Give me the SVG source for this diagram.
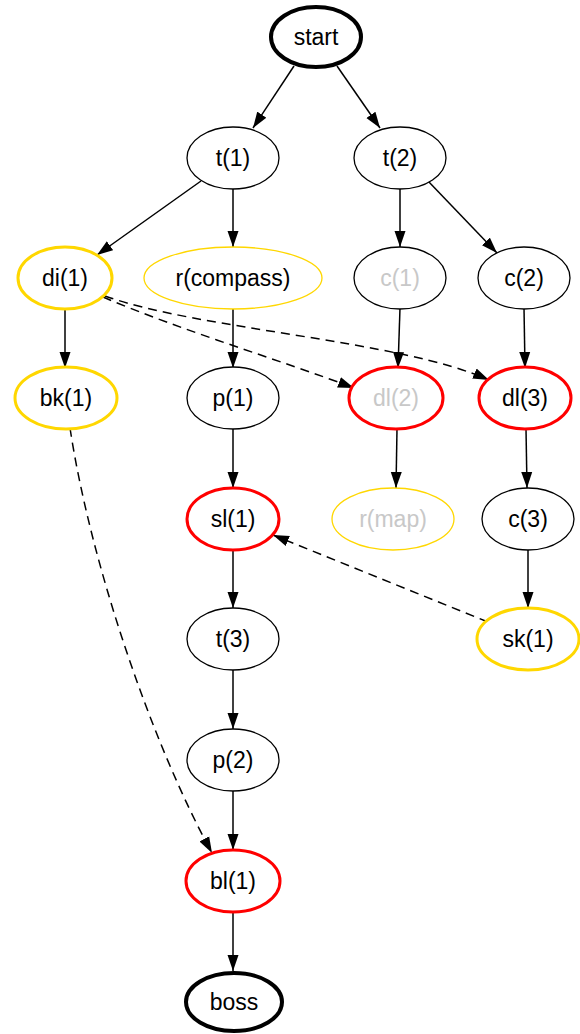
<svg xmlns="http://www.w3.org/2000/svg" width="580" height="1034" viewBox="0 0 580 1034">
<defs>
<marker id="ah" markerUnits="userSpaceOnUse" markerWidth="17" markerHeight="12" refX="16" refY="6" orient="auto">
<path d="M0,0.5 L16,6 L0,11.5 z" fill="#000" stroke="none"/>
</marker>
</defs>
<style>
.n{fill:#fff;stroke:#000;stroke-width:1.3}
.bold{stroke-width:4}
.red{stroke:#ff0000;stroke-width:3}
.gold{stroke:#ffd700;stroke-width:3}
.goldt{stroke:#ffd700;stroke-width:1.3}
text{font-family:"Liberation Sans",Arial,sans-serif;font-size:23px;text-anchor:middle;fill:#000}
.g{fill:#c8c8c8}
.e{fill:none;stroke:#000;stroke-width:1.5;marker-end:url(#ah)}
.d{stroke-dasharray:9,6}
</style>
<rect width="580" height="1034" fill="#fff"/>
<g id="edges">
<path class="e" d="M294,66 L253,128"/>
<path class="e" d="M337,66 L380,128"/>
<path class="e" d="M201,181 L97,255"/>
<path class="e" d="M233,188 L233,247"/>
<path class="e" d="M400,188 L400,247"/>
<path class="e" d="M428,181 L497,253"/>
<path class="e" d="M65,309 L65,368"/>
<path class="e" d="M233,308 L233,368"/>
<path class="e" d="M400,308 L398,368"/>
<path class="e" d="M524,308 L525,368"/>
<path class="e d" d="M103,297 C180,330 280,360 354,388"/>
<path class="e d" d="M105,296 C200,330 400,340 489,380"/>
<path class="e" d="M233,429 L233,488"/>
<path class="e" d="M397,429 L396,488"/>
<path class="e" d="M526,429 L527,488"/>
<path class="e" d="M233,550 L233,608"/>
<path class="e" d="M528,550 L528,608"/>
<path class="e d" d="M488,622 L273,535"/>
<path class="e" d="M233,670 L233,729"/>
<path class="e" d="M233,791 L233,850"/>
<path class="e d" d="M70,428 C90,560 150,740 212,853"/>
<path class="e" d="M233,912 L233,971"/>
</g>
<g id="start"><ellipse class="n bold" cx="316" cy="37" rx="45" ry="30"/><text x="316" y="45">start</text></g>
<g id="t1"><ellipse class="n" cx="233" cy="158" rx="46" ry="31"/><text x="233" y="166">t(1)</text></g>
<g id="t2"><ellipse class="n" cx="400" cy="158" rx="46" ry="31"/><text x="400" y="166">t(2)</text></g>
<g id="di1"><ellipse class="n gold" cx="65" cy="278" rx="47" ry="31"/><text x="65" y="286">di(1)</text></g>
<g id="rcompass"><ellipse class="n goldt" cx="233" cy="278" rx="89" ry="31"/><text x="233" y="286">r(compass)</text></g>
<g id="c1"><ellipse class="n" cx="400" cy="278" rx="46" ry="31"/><text class="g" x="400" y="286">c(1)</text></g>
<g id="c2"><ellipse class="n" cx="524" cy="278" rx="46" ry="31"/><text x="524" y="286">c(2)</text></g>
<g id="bk1"><ellipse class="n gold" cx="66" cy="398" rx="51" ry="31"/><text x="66" y="406">bk(1)</text></g>
<g id="p1"><ellipse class="n" cx="233" cy="398" rx="46" ry="31"/><text x="233" y="406">p(1)</text></g>
<g id="dl2"><ellipse class="n red" cx="396" cy="398" rx="47" ry="31"/><text class="g" x="396" y="406">dl(2)</text></g>
<g id="dl3"><ellipse class="n red" cx="525" cy="398" rx="46" ry="31"/><text x="525" y="406">dl(3)</text></g>
<g id="sl1"><ellipse class="n red" cx="233" cy="519" rx="46" ry="31"/><text x="233" y="527">sl(1)</text></g>
<g id="rmap"><ellipse class="n goldt" cx="393" cy="519" rx="61" ry="31"/><text class="g" x="393" y="527">r(map)</text></g>
<g id="c3"><ellipse class="n" cx="528" cy="519" rx="46" ry="31"/><text x="528" y="527">c(3)</text></g>
<g id="t3"><ellipse class="n" cx="233" cy="639" rx="46" ry="31"/><text x="233" y="647">t(3)</text></g>
<g id="sk1"><ellipse class="n gold" cx="528" cy="639" rx="51" ry="31"/><text x="528" y="647">sk(1)</text></g>
<g id="p2"><ellipse class="n" cx="233" cy="760" rx="46" ry="31"/><text x="233" y="768">p(2)</text></g>
<g id="bl1"><ellipse class="n red" cx="233" cy="881" rx="47" ry="31"/><text x="233" y="889">bl(1)</text></g>
<g id="boss"><ellipse class="n bold" cx="234" cy="1002" rx="48" ry="29"/><text x="234" y="1010">boss</text></g>
</svg>
